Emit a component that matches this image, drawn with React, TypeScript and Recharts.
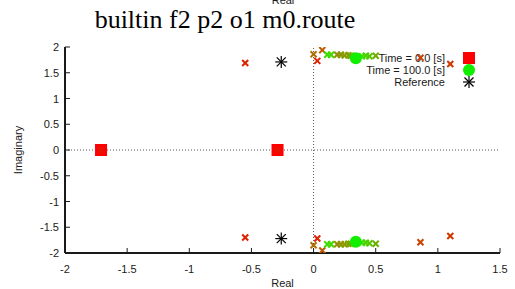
import React from "react";
import {
  ScatterChart,
  Scatter,
  XAxis,
  YAxis,
  ReferenceLine,
} from "recharts";

// pole locations
const startRe = [-1.71, -0.29];
const startIm = [0, 0];

const endRe = [0.34, 0.34];
const endIm = [1.78, -1.78];

const refRe = [-0.26, -0.26];
const refIm = [1.71, -1.72];

// intermediate poles (x marks) with the time [s] they belong to
const trajRe = [
  -1.71, -0.29,
  -0.55, 0.03, 1.1, 0.86, 0.07, 0.0, 0.19, 0.22, 0.25, 0.28, 0.3, 0.5, 0.11, 0.14, 0.39, 0.42, 0.45,
  -0.55, 0.03, 1.1, 0.86, 0.07, 0.0, 0.19, 0.22, 0.25, 0.28, 0.3, 0.5, 0.11, 0.14, 0.39, 0.42, 0.45,
];
const trajIm = [
  0, 0,
  1.69, 1.73, 1.67, 1.79, 1.94, 1.86, 1.85, 1.85, 1.84, 1.84, 1.83, 1.83, 1.85, 1.85, 1.82, 1.83, 1.82,
  -1.7, -1.72, -1.67, -1.79, -1.95, -1.85, -1.83, -1.83, -1.83, -1.82, -1.82, -1.82, -1.83, -1.83, -1.8, -1.8, -1.81,
];
const trajT = [
  0, 0,
  5, 5, 15, 20, 30, 40, 55, 58, 62, 65, 68, 72, 95, 92, 97, 90, 85,
  5, 5, 15, 20, 30, 40, 55, 58, 62, 65, 68, 72, 95, 92, 97, 90, 85,
];

const xTicks = [-2, -1.5, -1, -0.5, 0, 0.5, 1, 1.5];
const yTicks = [-2, -1.5, -1, -0.5, 0, 0.5, 1, 1.5, 2];

const legendLabels = ["Time = 0.0 [s]", "Time = 100.0 [s]", "Reference"];

const startData = startRe.map((re, i) => ({ re, im: startIm[i] }));
const endData = endRe.map((re, i) => ({ re, im: endIm[i] }));
const refData = refRe.map((re, i) => ({ re, im: refIm[i] }));
const trajData = trajRe.map((re, i) => ({ re, im: trajIm[i], t: trajT[i] }));

const FONT = "'Liberation Sans', Arial, sans-serif";
const INK = "#1a1a1a";

// time -> colour, red through olive to green
const stops: [number, number[]][] = [
  [0, [224, 24, 0]],
  [30, [192, 88, 0]],
  [60, [140, 150, 0]],
  [100, [48, 232, 0]],
];
function timeColor(t: number) {
  for (let i = 1; i < stops.length; i++) {
    const [t1, c1] = stops[i];
    const [t0, c0] = stops[i - 1];
    if (t <= t1) {
      const f = (t - t0) / (t1 - t0);
      const c = c0.map((v, k) => Math.round(v + (c1[k] - v) * f));
      return `rgb(${c.join(",")})`;
    }
  }
  return "rgb(48,232,0)";
}

const Square = ({ cx, cy }: any) => (
  <rect x={cx - 6} y={cy - 6} width={12} height={12} fill="#ff0000" />
);
const Dot = ({ cx, cy }: any) => <circle cx={cx} cy={cy} r={6} fill="#11ee00" />;
const Star = ({ cx, cy }: any) => (
  <g stroke="#000" strokeWidth={1.2}>
    <line x1={cx - 6} y1={cy} x2={cx + 6} y2={cy} />
    <line x1={cx} y1={cy - 6} x2={cx} y2={cy + 6} />
    <line x1={cx - 4.5} y1={cy - 4.5} x2={cx + 4.5} y2={cy + 4.5} />
    <line x1={cx - 4.5} y1={cy + 4.5} x2={cx + 4.5} y2={cy - 4.5} />
  </g>
);
const Cross = ({ cx, cy, payload }: any) => (
  <g stroke={timeColor(payload.t)} strokeWidth={2}>
    <line x1={cx - 3} y1={cy - 3} x2={cx + 3} y2={cy + 3} />
    <line x1={cx - 3} y1={cy + 3} x2={cx + 3} y2={cy - 3} />
  </g>
);

const BottomTick = ({ x, y, payload }: any) => (
  <g>
    <line x1={x} x2={x} y1={y} y2={y - 5} stroke={INK} />
    <text x={x} y={y + 20} textAnchor="middle" fontSize={11} fontFamily={FONT} fill={INK}>
      {payload.value}
    </text>
  </g>
);
const TopTick = ({ x, y }: any) => <line x1={x} x2={x} y1={y} y2={y + 5} stroke={INK} />;
const LeftTick = ({ x, y, payload }: any) => (
  <g>
    <line x1={x} x2={x + 5} y1={y} y2={y} stroke={INK} />
    <text x={x - 6} y={y + 4} textAnchor="end" fontSize={11} fontFamily={FONT} fill={INK}>
      {payload.value}
    </text>
  </g>
);
const RightTick = ({ x, y }: any) => <line x1={x} x2={x - 5} y1={y} y2={y} stroke={INK} />;

function Legend() {
  const marks = [Square, Dot, Star];
  return (
    <svg width={515} height={289} style={{ position: "absolute", left: 0, top: 0 }}>
      {legendLabels.map((label, i) => {
        const Mark = marks[i];
        const y = 58 + i * 12;
        return (
          <g key={label}>
            <text x={445} y={y + 4} textAnchor="end" fontSize={11} fontFamily={FONT} fill={INK}>
              {label}
            </text>
            <Mark cx={469} cy={y} />
          </g>
        );
      })}
    </svg>
  );
}

export default function App() {
  return (
    <div style={{ position: "absolute", left: 0, top: 0, width: 515, height: 289, background: "#fff" }}>
      <Legend />
      <div style={{ position: "absolute", left: 0, top: 0 }}>
        <ScatterChart width={515} height={289} margin={{ top: 47, right: 15, bottom: 0, left: 0 }}>
          <XAxis
            type="number"
            dataKey="re"
            domain={[-2, 1.5]}
            ticks={xTicks}
            interval={0}
            allowDataOverflow
            height={36}
            tickSize={0}
            tickMargin={0}
            tickLine={false}
            tick={<BottomTick />}
            axisLine={{ stroke: INK, strokeWidth: 2 }}
            label={{ value: "Real", position: "insideBottom", offset: 2, fontSize: 11, fontFamily: FONT, fill: INK }}
          />
          <XAxis
            xAxisId="top"
            orientation="top"
            type="number"
            dataKey="re"
            domain={[-2, 1.5]}
            ticks={xTicks}
            interval={0}
            allowDataOverflow
            height={0}
            tickSize={0}
            tickMargin={0}
            tickLine={false}
            tick={<TopTick />}
            axisLine={{ stroke: INK, strokeWidth: 2 }}
          />
          <YAxis
            type="number"
            dataKey="im"
            domain={[-2, 2]}
            ticks={yTicks}
            interval={0}
            allowDataOverflow
            width={65}
            tickSize={0}
            tickMargin={0}
            tickLine={false}
            tick={<LeftTick />}
            axisLine={{ stroke: INK, strokeWidth: 2 }}
            label={{
              content: ({ viewBox }: any) => {
                const cx = 18;
                const cy = viewBox.y + viewBox.height / 2;
                return (
                  <text
                    x={cx}
                    y={cy}
                    transform={`rotate(-90 ${cx} ${cy})`}
                    textAnchor="middle"
                    dominantBaseline="central"
                    fontSize={11}
                    fontFamily={FONT}
                    fill={INK}
                  >
                    Imaginary
                  </text>
                );
              },
            }}
          />
          <YAxis
            yAxisId="right"
            orientation="right"
            type="number"
            dataKey="im"
            domain={[-2, 2]}
            ticks={yTicks}
            interval={0}
            allowDataOverflow
            width={0}
            tickSize={0}
            tickMargin={0}
            tickLine={false}
            tick={<RightTick />}
            axisLine={{ stroke: INK, strokeWidth: 2 }}
          />
          <ReferenceLine x={0} stroke="#555" strokeDasharray="1 2" />
          <ReferenceLine y={0} stroke="#555" strokeDasharray="1 2" />
          <Scatter data={startData} shape={<Square />} isAnimationActive={false} />
          <Scatter data={trajData} shape={<Cross />} isAnimationActive={false} />
          <Scatter data={endData} shape={<Dot />} isAnimationActive={false} />
          <Scatter data={refData} shape={<Star />} isAnimationActive={false} />
        </ScatterChart>
      </div>
      <svg width={515} height={289} style={{ position: "absolute", left: 0, top: 0, pointerEvents: "none" }}>
        <text x={283} y={4} textAnchor="middle" fontSize={11} fontFamily={FONT} fill={INK}>
          Real
        </text>
        <text x={225} y={28} textAnchor="middle" fontSize={26} fontFamily="'Liberation Serif', 'Times New Roman', serif" fill="#000">
          builtin f2 p2 o1 m0.route
        </text>
      </svg>
    </div>
  );
}
